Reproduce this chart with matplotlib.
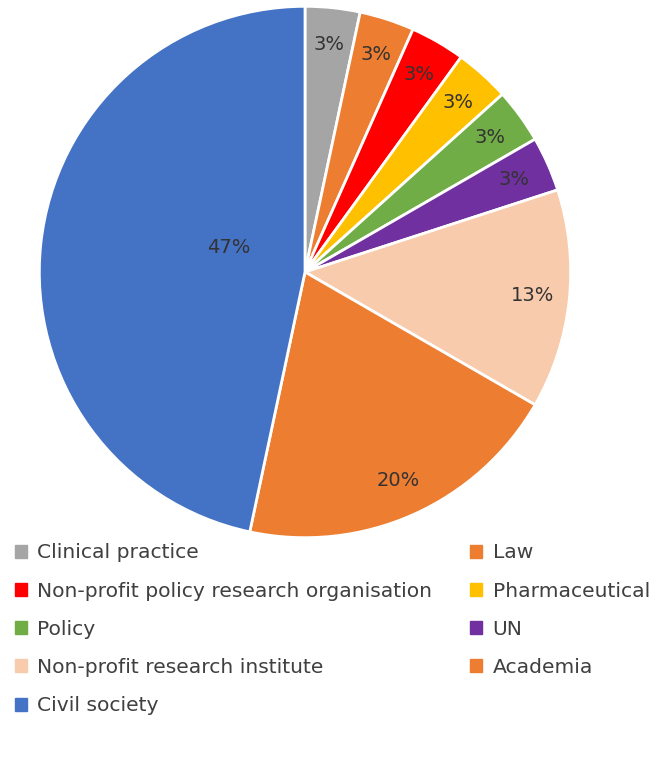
import matplotlib
matplotlib.use("Agg")
import matplotlib.pyplot as plt
from matplotlib.patches import Patch
import numpy as np

labels = ["Clinical practice", "Law", "Non-profit policy research organisation",
          "Pharmaceutical", "Policy", "UN", "Non-profit research institute",
          "Academia", "Civil society"]
counts = [1, 1, 1, 1, 1, 1, 4, 6, 14]
colors = ["#A5A5A5", "#ED7D31", "#FF0000", "#FFC000", "#70AD47",
          "#7030A0", "#F8CBAD", "#ED7D31", "#4472C4"]

fig = plt.figure(figsize=(6.66, 7.78), dpi=100)
ax = fig.add_axes([38 / 666, (778 - 539) / 778, 534 / 666, 534 / 778])

wedges, texts, autotexts = ax.pie(
    counts, colors=colors, startangle=90, counterclock=False,
    autopct=lambda p: "%d%%" % round(p), pctdistance=0.86,
    wedgeprops=dict(edgecolor="white", linewidth=2),
    textprops=dict(fontsize=14, color="#333333"))
ax.set_aspect("equal")
ax.set_xlim(-1.005, 1.005)
ax.set_ylim(-1.005, 1.005)

# Excel puts the big slice's label near the centre
big = autotexts[-1]
w = wedges[-1]
ang = np.radians((w.theta1 + w.theta2) / 2 - 12)
big.set_position((0.3 * np.cos(ang), 0.3 * np.sin(ang)))

left = [0, 2, 4, 6, 8]
right = [1, 3, 5, 7]
for idx, x in ((left, -0.005), (right, 452 / 666)):
    handles = [Patch(color=colors[i], label=labels[i]) for i in idx]
    fig.legend(handles=handles, loc="upper left", bbox_to_anchor=(x, 1 - 525 / 778),
               frameon=False, fontsize=14.6, labelspacing=0.95, handlelength=0.6,
               handleheight=0.6, handletextpad=0.5, labelcolor="#404040")

fig.savefig("out.png", dpi=100)
